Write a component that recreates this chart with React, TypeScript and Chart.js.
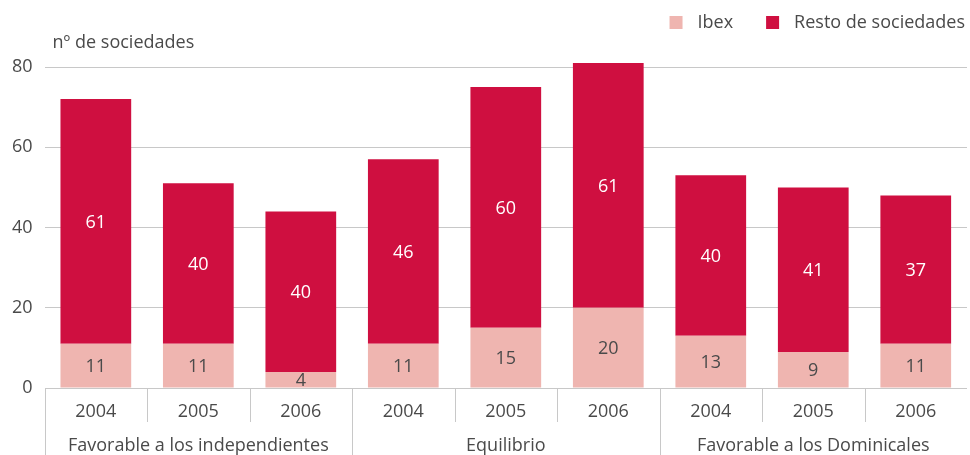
import React, { useEffect, useRef } from "react";
import { Chart, registerables } from "chart.js";

Chart.register(...registerables);

const years = ["2004", "2005", "2006", "2004", "2005", "2006", "2004", "2005", "2006"];
const groups = ["Favorable a los independientes", "Equilibrio", "Favorable a los Dominicales"];
const ibex = [11, 11, 4, 11, 15, 20, 13, 9, 11];
const resto = [61, 40, 40, 46, 60, 61, 40, 41, 37];
const yTicks = [0, 20, 40, 60, 80];
const yTitle = "nº de sociedades";
const seriesNames = ["Ibex", "Resto de sociedades"];
const seriesColors = ["#efb5b0", "#cf0f40"];

const FONT = "'Open Sans', 'DejaVu Sans', sans-serif";
const TEXT = "#4a4a4a";

const customPlugin = {
  id: "custom",
  afterDatasetsDraw(chart: any) {
    const ctx = chart.ctx;
    ctx.save();
    ctx.font = `18px ${FONT}`;
    ctx.textAlign = "center";
    ctx.textBaseline = "middle";
    chart.data.datasets.forEach((ds: any, i: number) => {
      const meta = chart.getDatasetMeta(i);
      meta.data.forEach((el: any, j: number) => {
        const v = ds.data[j];
        const cy = (el.y + el.base) / 2;
        ctx.fillStyle = i === 0 ? TEXT : "#ffffff";
        ctx.fillText(String(v), el.x, cy + 1);
      });
    });
    ctx.restore();
  },
  afterDraw(chart: any) {
    const ctx = chart.ctx;
    const x = chart.scales.x;
    const area = chart.chartArea;
    const n = years.length;
    const step = x.getPixelForValue(1) - x.getPixelForValue(0);
    ctx.save();
    // legend (right aligned)
    ctx.font = `18px ${FONT}`;
    ctx.textBaseline = "middle";
    ctx.textAlign = "left";
    const ly = 22;
    let rx = chart.width - 5;
    const dss = chart.data.datasets;
    for (let i = dss.length - 1; i >= 0; i--) {
      const label = dss[i].label;
      const tw = ctx.measureText(label).width;
      const tx = rx - tw;
      ctx.fillStyle = TEXT;
      ctx.fillText(label, tx, ly + 1);
      const bx = tx - 15 - 13;
      ctx.fillStyle = dss[i].backgroundColor;
      ctx.fillRect(bx, ly - 6, 13, 13);
      rx = bx - 33;
    }
    // title
    ctx.fillStyle = TEXT;
    ctx.fillText(yTitle, area.left + 8, 43);
    // separators
    ctx.strokeStyle = "#c8c8c8";
    ctx.lineWidth = 1;
    for (let i = 0; i < n; i++) {
      const bx = Math.round(x.getPixelForValue(i) - step / 2) + 0.5;
      const full = i % 3 === 0;
      ctx.beginPath();
      ctx.moveTo(bx, area.bottom);
      ctx.lineTo(bx, full ? chart.height : area.bottom + 34);
      ctx.stroke();
    }
    // year labels
    ctx.textAlign = "center";
    for (let i = 0; i < n; i++) {
      ctx.fillText(years[i], x.getPixelForValue(i), area.bottom + 24);
    }
    // group labels
    for (let g = 0; g < groups.length; g++) {
      const cx = x.getPixelForValue(g * 3 + 1);
      ctx.fillText(groups[g], cx, area.bottom + 58);
    }
    ctx.restore();
  },
};

export default function App() {
  const ref = useRef<HTMLCanvasElement>(null);
  useEffect(() => {
    document.body.style.margin = "0";
    const chart = new Chart(ref.current!, {
      type: "bar",
      data: {
        labels: years.map((y, i) => `${y}-${i}`),
        datasets: [
          { label: seriesNames[0], data: ibex, backgroundColor: seriesColors[0], stack: "s" },
          { label: seriesNames[1], data: resto, backgroundColor: seriesColors[1], stack: "s" },
        ],
      },
      options: {
        animation: false,
        responsive: false,
        maintainAspectRatio: false,
        layout: { padding: { left: 0, right: 3, top: 63, bottom: 59 } },
        datasets: { bar: { barPercentage: 0.69, categoryPercentage: 1 } },
        plugins: {
          legend: { display: false },
          tooltip: { enabled: false },
          title: { display: false },
        },
        scales: {
          x: {
            stacked: true,
            ticks: { display: false },
            grid: { display: false },
            border: { display: false },
          },
          y: {
            stacked: true,
            min: 0,
            max: 81,
            afterBuildTicks: (s: any) => {
              s.ticks = yTicks.map((v) => ({ value: v }));
            },
            ticks: { color: TEXT, font: { family: FONT, size: 18 }, padding: 12 },
            grid: { color: "#c8c8c8", drawTicks: false },
            border: { display: false },
          },
        },
      },
      plugins: [customPlugin],
    });
    return () => chart.destroy();
  }, []);
  return (
    <div style={{ position: "fixed", left: 0, top: 0, width: 970, height: 455 }}>
      <canvas ref={ref} width={970} height={455} style={{ width: 970, height: 455 }} />
    </div>
  );
}
